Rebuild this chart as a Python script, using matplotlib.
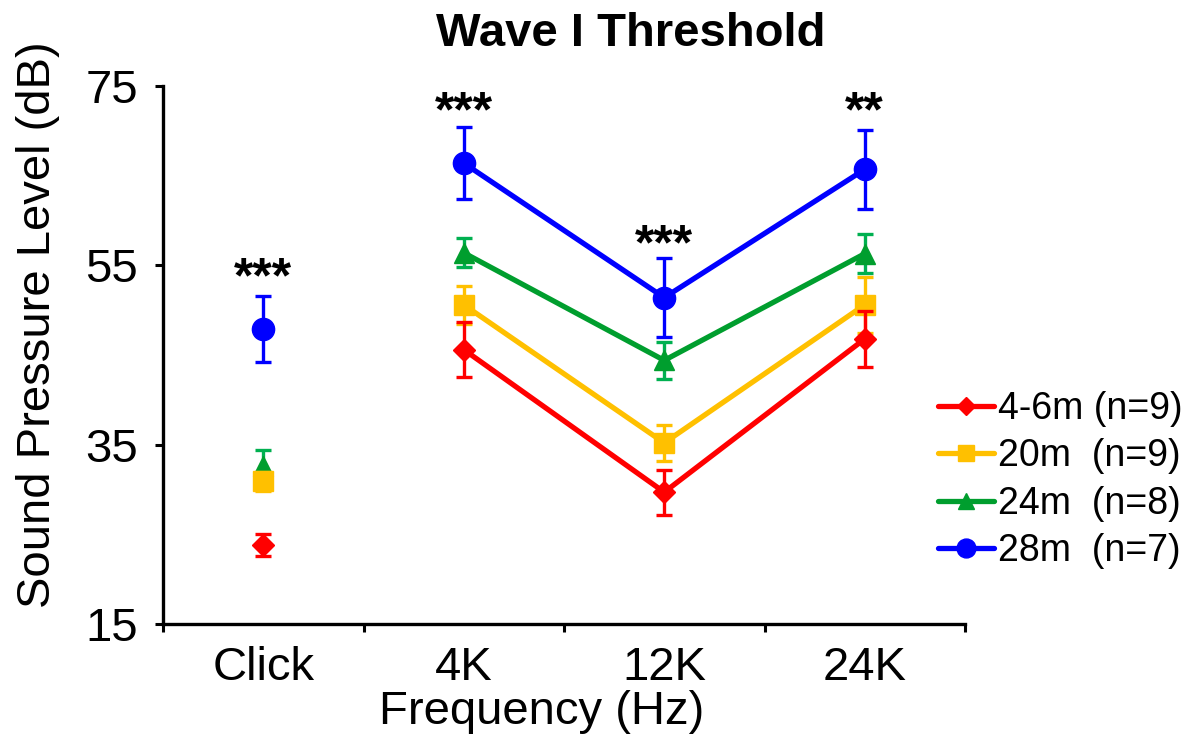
import matplotlib
matplotlib.use("Agg")
import matplotlib.pyplot as plt
from matplotlib.ticker import FixedLocator

plt.rcParams['font.family'] = ['Liberation Sans', 'DejaVu Sans']

categories = ["Click", "4K", "12K", "24K"]
series_labels = ["4-6m (n=9)", "20m  (n=9)", "24m  (n=8)", "28m  (n=7)"]
colors = ["#FF0000", "#FFC000", "#009E2E", "#0000FF"]
err_colors = ["#FF0000", "#FFC000", "#00B050", "#0000FF"]
markers = ["D", "s", "^", "o"]
msizes = [11, 14, 14, 16]

mean_4_6m = [23.8, 45.6, 29.7, 46.8]
err_4_6m = [1.2, 3.1, 2.5, 3.1]
mean_20m = [30.9, 50.6, 35.2, 50.6]
err_20m = [1.1, 2.1, 2.0, 3.1]
mean_24m = [32.6, 56.4, 44.4, 56.3]
err_24m = [1.8, 1.6, 2.1, 2.2]
mean_28m = [47.9, 66.4, 51.4, 65.7]
err_28m = [3.7, 4.0, 4.4, 4.4]

means = [mean_4_6m, mean_20m, mean_24m, mean_28m]
errs = [err_4_6m, err_20m, err_24m, err_28m]

sig_labels = ["***", "***", "***", "**"]
sig_y = [53.4, 71.9, 57.1, 71.9]

fig = plt.figure(figsize=(11.86, 7.37), dpi=100)
ax = fig.add_axes([163/1186, 1-624/737, (965-163)/1186, (624-86)/737])

x = list(range(len(categories)))
handles = []
for i in reversed(range(4)):
    m = means[i]
    e = errs[i]
    z = 10 - i
    ax.errorbar(x, m, yerr=e, fmt='none', ecolor=err_colors[i], elinewidth=2.4,
                capsize=5.5, capthick=2.4, zorder=z)
    ax.plot(x[1:], m[1:], color=colors[i], lw=3.8, zorder=z, solid_capstyle='round')
    ax.plot(x, m, linestyle='none', marker=markers[i], ms=msizes[i],
            color=colors[i], mec=colors[i], zorder=z)

for i in range(4):
    h, = ax.plot([], [], color=colors[i], lw=3.8, marker=markers[i],
                 ms=msizes[i] * 0.85, mec=colors[i], solid_capstyle='round')
    handles.append(h)

for xi, lab, yy in zip(x, sig_labels, sig_y):
    ax.text(xi, yy, lab, ha='center', va='center', fontsize=36,
            fontweight='bold', zorder=20)

ax.set_xlim(-0.5, 3.5)
ax.set_ylim(15, 75)
ax.set_yticks([15, 35, 55, 75])
ax.set_xticks(x)
ax.set_xticklabels(categories)
ax.xaxis.set_minor_locator(FixedLocator([-0.5, 0.5, 1.5, 2.5, 3.5]))
ax.tick_params(axis='x', which='major', length=0, pad=16, labelsize=34)
ax.tick_params(axis='x', which='minor', length=6, width=2.2, direction='out')
ax.tick_params(axis='y', length=6, width=2.2, direction='out', pad=12, labelsize=34)
for s in ['top', 'right']:
    ax.spines[s].set_visible(False)
for s in ['left', 'bottom']:
    ax.spines[s].set_linewidth(2.4)

ax.set_xlabel("Frequency (Hz)", fontsize=34, labelpad=3)
ax.xaxis.set_label_coords((542-163)/802, -(712-624)/538)
ax.xaxis.label.set_va('center')
ax.set_ylabel("Sound Pressure Level (dB)", fontsize=34)
ax.yaxis.set_label_coords(-(163-38)/802, (624-325)/538)
ax.yaxis.label.set_va('center')

fig.text(631/1186, 1-34/737, "Wave I Threshold", ha='center', va='center',
         fontsize=34, fontweight='bold')

fig.legend(handles, series_labels, loc='center left',
           bbox_to_anchor=(938/1186, 1-480/737), frameon=False, fontsize=27,
           handlelength=1.5, handletextpad=0.1, labelspacing=0.3,
           borderaxespad=0, borderpad=0)

fig.savefig("out.png", dpi=100)
